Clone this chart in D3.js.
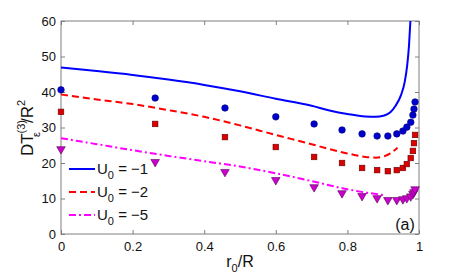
<!DOCTYPE html>
<html>
<head>
<meta charset="utf-8">
<script src="https://cdn.jsdelivr.net/npm/d3@7"></script>
<style>
body { margin: 0; background: #fff; }
text { font-family: "Liberation Sans", Arial, sans-serif; }
</style>
</head>
<body>
<div id="chart"></div>
<script>
// curves
var lineU1 = [[0,46.9],[0.1,45.9],[0.2,44.8],[0.3,43.5],[0.4,42.0],[0.5,40.2],[0.6,38.1],[0.7,36.1],[0.75,34.8],[0.8,33.8],[0.85,33.1],[0.88,33.0],[0.9,33.3],[0.92,34.3],[0.935,36.2],[0.95,39.2],[0.96,42.8],[0.967,47.5],[0.972,53],[0.976,60]];
var lineU2 = [[0,39.3],[0.1,37.9],[0.2,36.6],[0.3,34.9],[0.4,33.0],[0.5,30.6],[0.6,27.9],[0.7,25.3],[0.75,23.9],[0.8,22.7],[0.85,21.7],[0.88,21.5],[0.9,21.8],[0.92,22.7],[0.94,24.3]];
var lineU5 = [[0,27.0],[0.1,25.3],[0.2,23.6],[0.3,22.0],[0.4,20.5],[0.5,19.0],[0.6,17.1],[0.7,14.9],[0.8,12.6],[0.85,11.7],[0.9,11.0]];

// points
var ptsX = [0,0.263,0.458,0.6,0.707,0.785,0.841,0.883,0.913,0.938,0.955,0.966,0.977,0.983,0.986,0.989];
var ptsU1 = [40.6,38.3,35.5,33.0,31.0,29.3,28.2,27.6,27.6,28.2,29.0,30.1,31.5,33.5,35.2,37.2];
var ptsU2 = [34.4,31.0,27.3,24.5,21.7,20.0,18.6,18.0,17.7,18.0,18.6,19.7,21.4,23.4,25.6,27.9];
var ptsU5 = [23.9,20.3,17.5,15.2,13.2,11.5,10.7,10.1,9.6,9.6,9.8,10.1,10.6,11.3,11.8,12.6];

var xTicks = [0,0.2,0.4,0.6,0.8,1];
var yTicks = [0,10,20,30,40,50,60];
var legendLabels = ["\u22121","\u22122","\u22125"];

var W = 463, H = 279;
var margin = { top: 21, right: 44, bottom: 45, left: 61 },
width = W - margin.left - margin.right,
height = H - margin.top - margin.bottom;

var svg = d3.select("#chart").append("svg")
  .attr("width", W).attr("height", H);

var g = svg.append("g")
  .attr("transform", "translate(" + margin.left + "," + margin.top + ")");

var x = d3.scaleLinear().domain([0, 1]).range([0, width]);
var y = d3.scaleLinear().domain([0, 60]).range([height, 0]);

g.append("clipPath").attr("id", "clip")
  .append("rect").attr("width", width).attr("height", height);

var axisColor = "#7f7f7f";

function styleAxis(sel, showText) {
  sel.select(".domain").remove();
  sel.selectAll(".tick line").attr("stroke", axisColor);
  sel.selectAll(".tick text")
    .attr("fill", "#111")
    .attr("font-size", "13px")
    .style("display", showText ? null : "none");
}

g.append("g").attr("transform", "translate(0," + height + ")")
  .call(d3.axisBottom(x).tickValues(xTicks).tickFormat(d3.format("")).tickSizeInner(-4).tickSizeOuter(0).tickPadding(8))
  .call(s => styleAxis(s, true));
g.append("g")
  .call(d3.axisTop(x).tickValues(xTicks).tickSizeInner(-4).tickSizeOuter(0))
  .call(s => styleAxis(s, false));
g.append("g")
  .call(d3.axisLeft(y).tickValues(yTicks).tickSizeInner(-4).tickSizeOuter(0).tickPadding(5))
  .call(s => styleAxis(s, true));
g.append("g").attr("transform", "translate(" + width + ",0)")
  .call(d3.axisRight(y).tickValues(yTicks).tickSizeInner(-4).tickSizeOuter(0))
  .call(s => styleAxis(s, false));

g.append("rect")
  .attr("width", width).attr("height", height)
  .attr("fill", "none").attr("stroke", axisColor).attr("stroke-width", 1);

var line = d3.line().x(d => x(d[0])).y(d => y(d[1])).curve(d3.curveMonotoneX);

var plot = g.append("g").attr("clip-path", "url(#clip)");

plot.append("path").datum(lineU1)
  .attr("fill", "none").attr("stroke", "#0000ff").attr("stroke-width", 2)
  .attr("d", line);
plot.append("path").datum(lineU2)
  .attr("fill", "none").attr("stroke", "#ff0000").attr("stroke-width", 2)
  .attr("stroke-dasharray", "7,4")
  .attr("d", line);
plot.append("path").datum(lineU5)
  .attr("fill", "none").attr("stroke", "#ff00ff").attr("stroke-width", 2)
  .attr("stroke-dasharray", "7,3,2,3")
  .attr("d", line);

// markers
g.selectAll(".c").data(ptsX).enter().append("circle")
  .attr("cx", d => x(d)).attr("cy", (d, i) => y(ptsU1[i]))
  .attr("r", 3.3).attr("fill", "#0000cc").attr("stroke", "#00007a").attr("stroke-width", 0.6);
g.selectAll(".s").data(ptsX).enter().append("rect")
  .attr("x", d => x(d) - 2.8).attr("y", (d, i) => y(ptsU2[i]) - 2.8)
  .attr("width", 5.6).attr("height", 5.6)
  .attr("fill", "#dd0000").attr("stroke", "#660000").attr("stroke-width", 0.6);
var tri = d3.symbol().type(d3.symbolTriangle).size(32);
g.selectAll(".t").data(ptsX).enter().append("path")
  .attr("d", tri)
  .attr("transform", (d, i) => "translate(" + x(d) + "," + y(ptsU5[i]) + ") rotate(180)")
  .attr("fill", "#cc00cc").attr("stroke", "#550055").attr("stroke-width", 0.6);

// legend
var legColors = ["#0000ff", "#ff0000", "#ff00ff"];
var legDash = [null, "7,4", "7,3,2,3"];
var leg = svg.append("g");
legendLabels.forEach(function (lab, i) {
  var ly = 169 + i * 23;
  leg.append("line").attr("x1", 69).attr("x2", 95).attr("y1", ly).attr("y2", ly)
    .attr("stroke", legColors[i]).attr("stroke-width", 2)
    .attr("stroke-dasharray", legDash[i]);
  var t = leg.append("text").attr("x", 97).attr("y", ly + 5).attr("font-size", "15px").attr("fill", "#111");
  t.append("tspan").text("U");
  t.append("tspan").attr("font-size", "11px").attr("dy", 5).text("0");
  t.append("tspan").attr("dy", -5).text(" = " + lab);
});

// labels
svg.append("text").attr("x", 405).attr("y", 230).attr("text-anchor", "middle")
  .attr("font-size", "16px").attr("fill", "#111").text("(a)");

var xl = svg.append("text").attr("x", 240).attr("y", 267).attr("text-anchor", "middle")
  .attr("font-size", "16px").attr("fill", "#111");
xl.append("tspan").text("r");
xl.append("tspan").attr("font-size", "11px").attr("dy", 5).text("0");
xl.append("tspan").attr("dy", -5).text("/R");

var yl = svg.append("text")
  .attr("transform", "translate(33,128) rotate(-90)")
  .attr("text-anchor", "middle").attr("font-size", "17px").attr("fill", "#111");
yl.append("tspan").text("DT");
yl.append("tspan").attr("font-size", "11px").attr("dy", -8).text("(3)");
yl.append("tspan").attr("font-size", "11px").attr("dx", -17).attr("dy", 15).text("\u03b5");
yl.append("tspan").attr("dx", 9).attr("dy", -7).text("/R");
yl.append("tspan").attr("font-size", "11px").attr("dy", -8).text("2");
</script>
</body>
</html>
